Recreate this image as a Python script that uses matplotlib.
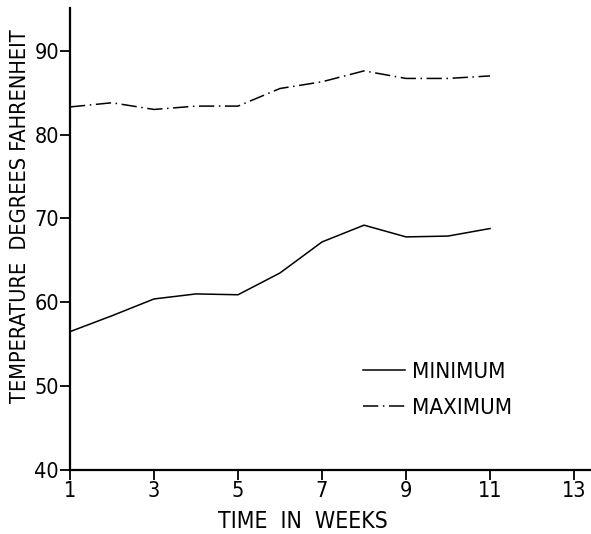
import matplotlib
matplotlib.use("Agg")
import matplotlib.pyplot as plt
from matplotlib import font_manager

weeks = [1, 2, 3, 4, 5, 6, 7, 8, 9, 10, 11]
minimum = [56.5, 58.4, 60.4, 61.0, 60.9, 63.5, 67.2, 69.2, 67.8, 67.9, 68.8]
maximum = [83.3, 83.8, 83.0, 83.4, 83.4, 85.5, 86.3, 87.6, 86.7, 86.7, 87.0]
xticks = [1, 3, 5, 7, 9, 11, 13]
yticks = [40, 50, 60, 70, 80, 90]

# narrow sans looks closest to the lettering of the scan
narrow = None
for f in font_manager.fontManager.ttflist:
    fn = f.fname.lower()
    if ("narrow" in fn or "condensed" in fn) and "bold" not in fn and "oblique" not in fn and "italic" not in fn:
        if "sans" in fn or "roboto" in fn:
            narrow = f
            break
if narrow is not None:
    plt.rcParams["font.family"] = [narrow.name, "DejaVu Sans"]
    plt.rcParams["font.stretch"] = narrow.stretch
else:
    plt.rcParams["font.family"] = ["Liberation Sans", "DejaVu Sans"]

fig = plt.figure(figsize=(5.91, 5.34), dpi=100)
ax = fig.add_axes([70 / 591, 64 / 534, 520 / 591, 462 / 534])

ax.plot(weeks, minimum, color="black", lw=1.1, label="MINIMUM")
ax.plot(weeks, maximum, color="black", lw=1.1, linestyle=(0, (10, 3, 1, 3)), label="MAXIMUM")

ax.set_xlim(1, 13.38)
ax.set_ylim(40, 95.1)
ax.set_xticks(xticks)
ax.set_yticks(yticks)
ax.tick_params(direction="out", length=7, width=1.3, labelsize=15.5, pad=1, colors="black")
for s in ["top", "right"]:
    ax.spines[s].set_visible(False)
for s in ["left", "bottom"]:
    ax.spines[s].set_linewidth(1.6)

fig.text(303 / 591, 1 - 522 / 534, "TIME  IN  WEEKS", fontsize=16.5, ha="center", va="center")
fig.text(20 / 591, 1 - 216 / 534, "TEMPERATURE  DEGREES FAHRENHEIT", fontsize=15.6,
         rotation=90, ha="center", va="center")

ax.legend(loc="upper left", bbox_to_anchor=(363 / 591, 1 - 362 / 534), bbox_transform=fig.transFigure,
          frameon=False, fontsize=16, handlelength=1.9, handletextpad=0.3, labelspacing=0.7,
          borderpad=0, borderaxespad=0)

fig.savefig("out.png", dpi=100)
